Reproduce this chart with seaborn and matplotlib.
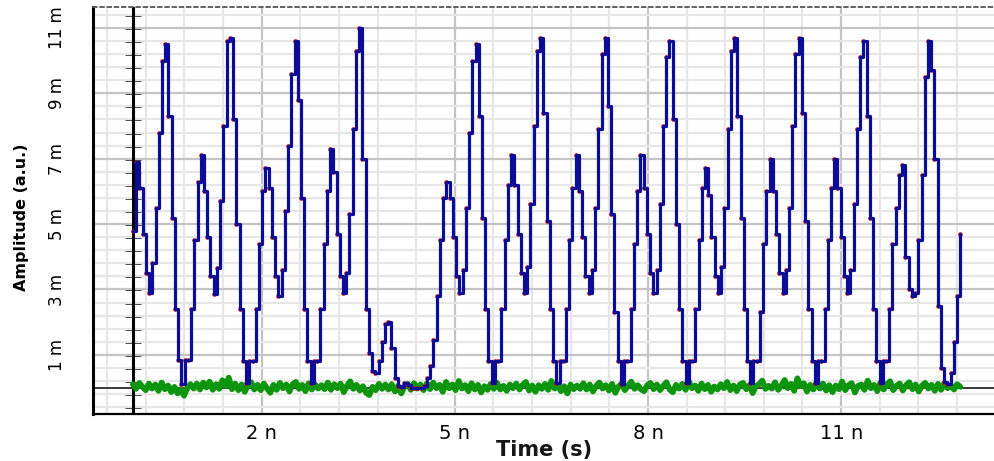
import numpy as np
import seaborn as sns
import matplotlib.pyplot as plt
import matplotlib.ticker as mticker

# scope sample clock (ns)
dt_ns = 0.0502

# blue trace, one row per ~1 ns bit slot, amplitude in m(a.u.)
amp_p0 = [4.8, 6.9, 6.1, 4.7, 3.5, 2.9, 3.8, 5.5, 7.8, 10.0, 10.5, 8.3, 5.2, 2.4, 0.84, 0.12, 0.84, 0.84, 2.4, 4.5]
amp_p1 = [6.3, 7.1, 6.0, 4.6, 3.4, 2.85, 3.65, 5.7, 8.0, 10.6, 10.7, 8.2, 5.0, 2.4, 0.8, 0.15, 0.8, 0.8, 2.4, 4.4]
amp_p2 = [6.0, 6.7, 6.1, 4.6, 3.4, 2.8, 3.6, 5.4, 7.4, 9.6, 10.6, 8.8, 5.8, 2.4, 0.8, 0.15, 0.8, 0.8, 2.4, 4.4]
amp_p3 = [6.0, 7.3, 6.6, 4.7, 3.4, 2.9, 3.5, 5.3, 7.9, 10.3, 11.0, 7.0, 2.4, 1.05, 0.5, 0.45, 0.8, 1.4, 1.95, 2.0]
amp_gap = [1.2, 0.3, 0.05, 0.02, 0.15, 0.08, 0.0, 0.0, 0.0, 0.0, 0.05, 0.3, 0.65, 1.45, 2.8, 4.5]
amp_q0 = [5.8, 6.3, 5.8, 4.6, 3.4, 2.9, 3.6, 5.5, 7.8, 10.0, 10.5, 8.3, 5.2, 2.4, 0.8, 0.13, 0.8, 0.8, 2.4, 4.5]
amp_q1 = [6.2, 7.1, 6.2, 4.7, 3.5, 2.9, 3.7, 5.6, 8.0, 10.3, 10.7, 8.4, 5.1, 2.4, 0.8, 0.15, 0.8, 0.8, 2.4, 4.5]
amp_q2 = [6.1, 7.1, 6.0, 4.6, 3.4, 2.9, 3.6, 5.5, 7.9, 10.2, 10.7, 8.6, 5.3, 2.3, 0.8, 0.12, 0.8, 0.8, 2.4, 4.4]
amp_q3 = [6.0, 7.1, 6.1, 4.7, 3.5, 2.9, 3.6, 5.6, 8.0, 10.1, 10.6, 8.2, 5.0, 2.4, 0.8, 0.14, 0.8, 0.8, 2.4, 4.5]
amp_q4 = [6.1, 6.7, 5.9, 4.6, 3.4, 2.9, 3.7, 5.5, 7.9, 10.3, 10.7, 8.3, 5.2, 2.4, 0.8, 0.15, 0.8, 0.8, 2.3, 4.4]
amp_q5 = [6.0, 7.0, 6.0, 4.7, 3.5, 2.9, 3.6, 5.5, 8.0, 10.2, 10.7, 8.4, 5.1, 2.4, 0.8, 0.13, 0.8, 0.8, 2.4, 4.5]
amp_q6 = [6.1, 7.0, 6.1, 4.6, 3.4, 2.9, 3.6, 5.6, 7.9, 10.1, 10.6, 8.3, 5.2, 2.4, 0.8, 0.15, 0.8, 0.8, 2.4, 4.4]
amp_q7 = [5.5, 6.5, 6.8, 4.0, 3.0, 2.8, 2.9, 4.5, 6.5, 9.5, 10.6, 9.7, 7.0, 2.5, 0.6, 0.18, 0.1, 0.45, 1.4, 2.8]
amp_tail = [4.7]

# green noise floor trace
noise_rows = [
    [0.10, -0.04, 0.14, 0.02, -0.08, 0.12, -0.03, 0.09, -0.10, 0.15, -0.05, 0.06, -0.14, 0.02, -0.18, -0.05, -0.25, -0.02, 0.10, -0.03],
    [0.12, -0.06, 0.15, 0.00, 0.18, -0.07, 0.10, -0.04, 0.22, 0.05, 0.30, -0.05, 0.12, -0.08, 0.09, -0.13, 0.07, 0.16, -0.06, 0.08],
    [-0.08, 0.12, -0.03, -0.16, 0.08, -0.07, 0.14, -0.02, 0.09, -0.12, 0.10, 0.17, -0.04, 0.08, -0.11, 0.13, -0.06, 0.09, -0.03, 0.07],
    [-0.05, 0.15, -0.07, 0.10, -0.02, 0.12, -0.14, 0.05, 0.19, -0.04, 0.08, -0.09, 0.04, -0.16, -0.23, 0.02, -0.08, 0.11, -0.04, 0.09],
    [-0.06, 0.10, -0.12, 0.05, -0.18, 0.03, 0.11, -0.07, 0.13, -0.03, 0.09, -0.08, 0.12, -0.05, 0.15, -0.02, 0.08, -0.13, 0.17, -0.02],
    [0.09, -0.08, 0.20, -0.03, 0.07, -0.11, 0.13, -0.06, 0.08, -0.15, 0.04, -0.07, 0.11, -0.04, 0.14, -0.06, 0.05, -0.10, 0.09, -0.02],
    [0.12, -0.06, 0.08, 0.17, -0.09, 0.06, -0.13, 0.07, -0.04, 0.11, -0.07, 0.20, -0.03, 0.06, -0.11, 0.04, -0.18, 0.09, -0.05, 0.06],
    [-0.04, 0.13, -0.06, 0.09, -0.12, 0.05, 0.15, -0.03, 0.07, -0.09, 0.11, -0.16, 0.03, 0.12, -0.08, 0.05, 0.18, -0.04, 0.07, -0.05],
    [-0.11, 0.07, 0.14, -0.05, 0.09, -0.08, 0.05, 0.16, -0.06, -0.14, 0.08, -0.03, 0.11, -0.07, 0.19, -0.02, 0.06, -0.10, 0.12, -0.05],
    [0.08, -0.13, 0.03, -0.06, 0.10, -0.02, 0.17, -0.08, 0.06, -0.11, 0.09, 0.14, -0.05, 0.07, -0.17, 0.04, 0.10, 0.21, -0.04, 0.05],
    [-0.03, 0.16, -0.07, 0.06, 0.23, -0.02, 0.11, -0.10, 0.28, 0.04, 0.13, -0.12, 0.08, -0.06, 0.15, -0.03, 0.12, -0.09, 0.07, -0.14],
    [0.06, -0.05, 0.18, -0.08, 0.07, 0.13, -0.15, 0.05, 0.09, -0.07, 0.21, -0.02, 0.08, -0.11, 0.15, -0.06, 0.10, 0.19, -0.08, 0.05],
    [0.12, -0.09, 0.07, 0.16, -0.05, 0.09, -0.12, 0.06, 0.14, -0.03, 0.08, -0.10, 0.11, -0.07, 0.13, -0.02, 0.07, -0.06, 0.10, 0.02],
]

xtick_vals = [2, 5, 8, 11]
xtick_labels = ['2 n', '5 n', '8 n', '11 n']
ytick_vals = [1, 3, 5, 7, 9, 11]
ytick_labels = ['1 m', '3 m', '5 m', '7 m', '9 m', '11 m']

amp = np.concatenate([amp_p0, amp_p1, amp_p2, amp_p3, amp_gap, amp_q0, amp_q1, amp_q2,
                      amp_q3, amp_q4, amp_q5, amp_q6, amp_q7, amp_tail])
t = np.arange(len(amp)) * dt_ns
noise = np.concatenate(noise_rows)
t_noise = np.linspace(0, t[-1], len(noise))

sns.set_style('white')
plt.rcParams['font.family'] = ['DejaVu Sans']

fig = plt.figure(figsize=(9.95, 4.61), dpi=100)
ax = fig.add_axes([93 / 995, 1 - 414 / 461, 902 / 995, 407 / 461])
xmin, xmax = -0.62, 13.39
ax.set_xlim(xmin, xmax)
ax.set_ylim(-0.81, 11.64)

# grid
minor_y = np.arange(-0.6, 11.7, 0.4)
ax.set_xticks(xtick_vals)
ax.set_xticklabels(xtick_labels)
ax.xaxis.set_minor_locator(mticker.FixedLocator(np.arange(-0.4, 13.4, 0.6)))
ax.set_yticks(ytick_vals)
ax.set_yticklabels(ytick_labels, rotation=90, va='center')
ax.yaxis.set_minor_locator(mticker.FixedLocator(minor_y))
ax.grid(which='major', color='#c4c4c4', lw=1.6)
ax.grid(which='minor', color='#e6e6e6', lw=1.6)
ax.set_axisbelow(True)

ax.axhline(0, color='#2a2a2a', lw=1.3, zorder=1.5)
ax.axvline(0, color='black', lw=2.2, zorder=1.6)

sns.lineplot(x=t_noise, y=noise, color='#0d960d', lw=4.2, ax=ax, zorder=2)
sns.scatterplot(x=t, y=amp, color='#c41010', s=11, linewidth=0, ax=ax, zorder=2.5)
sns.lineplot(x=t, y=amp, drawstyle='steps-post', color='#0c0c96', lw=2.3, ax=ax, zorder=3)

# spines / ticks
ax.spines['right'].set_visible(False)
ax.spines['top'].set_linestyle((0, (2, 2)))
ax.spines['top'].set_color('#555555')
ax.spines['top'].set_linewidth(1.3)
ax.spines['left'].set_color('black')
ax.spines['left'].set_linewidth(2.2)
ax.spines['bottom'].set_color('black')
ax.spines['bottom'].set_linewidth(1.6)
ax.spines['bottom'].set_linestyle((0, (1, 1)))

ax.tick_params(axis='y', which='major', direction='inout', length=21, width=1.8,
               pad=9, labelsize=12, colors='black')
ax.tick_params(axis='y', which='minor', direction='inout', length=15, width=1.8, colors='black')
ax.tick_params(axis='x', which='major', direction='inout', length=5, width=1.5,
               pad=5, labelsize=14, colors='black')
ax.tick_params(axis='x', which='minor', direction='inout', length=5, width=2.5, colors='black')

# ticks on the inner amplitude axis at t = 0
sec = ax.secondary_yaxis((0 - xmin) / (xmax - xmin))
sec.set_yticks(ytick_vals)
sec.yaxis.set_minor_locator(mticker.FixedLocator(minor_y))
sec.tick_params(which='both', direction='inout', length=11, width=1.8, labelleft=False,
                colors='black')
sec.spines['left'].set_visible(False)

ax.set_xlabel('Time (s)', fontsize=15, fontweight='bold', color='#161616')
ax.xaxis.set_label_coords(0.5, -0.088)
ax.xaxis.label.set_va('center')
ax.set_ylabel('Amplitude (a.u.)', fontsize=11.5, fontweight='bold', color='black')
ax.yaxis.set_label_coords(-0.079, 0.484)
ax.yaxis.label.set_va('center')

fig.savefig('out.png', dpi=100)
